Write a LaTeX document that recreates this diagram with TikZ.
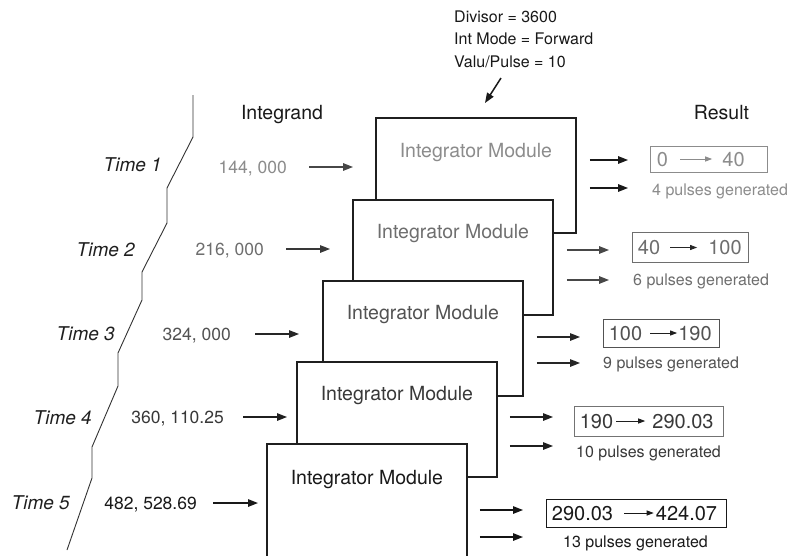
\documentclass[tikz,border=0pt]{standalone}
\usepackage{fontspec}
\setmainfont{TeX Gyre Heros}
\usetikzlibrary{arrows.meta}
\definecolor{cA}{gray}{0.55}
\definecolor{cB}{gray}{0.43}
\definecolor{cC}{gray}{0.32}
\definecolor{cD}{gray}{0.22}
\definecolor{cE}{gray}{0.10}
\begin{document}
\begin{tikzpicture}[x=1pt,y=-1pt,
  modbox/.style={draw=black!88, line width=1.8pt, fill=white, minimum width=200pt, minimum height=115pt, anchor=north west, inner sep=0pt},
  modtxt/.style={inner sep=0pt, text depth=0pt, font=\fontsize{19.5}{22}\selectfont},
  big/.style={inner sep=0pt, text depth=0pt, font=\fontsize{19.5}{22}\selectfont},
  timetxt/.style={inner sep=0pt, text depth=0pt, anchor=east, text=black!88, font=\fontsize{19}{22}\selectfont\itshape},
  intxt/.style={inner sep=0pt, text depth=0pt, anchor=east, font=\fontsize{17.5}{20}\selectfont},
  restxt/.style={inner sep=0pt, text depth=0pt, font=\fontsize{20}{22}\selectfont},
  pultxt/.style={inner sep=0pt, text depth=0pt, anchor=west, font=\fontsize{16}{19}\selectfont},
  partxt/.style={inner sep=0pt, text depth=0pt, anchor=west, text=black!90, font=\fontsize{16}{19}\selectfont},
  resbox/.style={draw, line width=1pt, inner sep=0pt},
  arr/.style={line width=1.4pt, -{Triangle[length=10pt,width=7.5pt]}},
  sarr/.style={line width=0.9pt, -{Triangle[length=7pt,width=5pt]}},
  zig/.style={draw=black!80, line width=0.9pt}
]
\clip (0,0) rectangle (790,555);
\fill[white] (0,0) rectangle (790,555);

% parameters and headings
\node[partxt] (p1) at (454,17) {Divisor = 3600};
\node[partxt] (p2) at (454,39) {Int Mode = Forward};
\node[partxt] (p3) at (454,62) {Valu/Pulse = 10};
\coordinate (pa) at (501,78);
\coordinate (pb) at (485,103);
\draw[arr, black!90, line width=1.5pt] (pa) -- (pb);

\node[big, text=black!90] (hint) at (282,112) {Integrand};
\node[big, text=black!90] (hres) at (721.5,112) {Result};

% time line
\draw[zig] (193,95) -- (193,137) -- (167,188) -- (167,223) -- (142,272) -- (142,300)
  -- (118,353) -- (118,386) -- (92,447) -- (92,478) -- (67,550);

\node[timetxt] (t1) at (162,165) {Time 1};
\node[timetxt] (t2) at (135,250) {Time 2};
\node[timetxt] (t3) at (115,334) {Time 3};
\node[timetxt] (t4) at (92,418) {Time 4};
\node[timetxt] (t5) at (70,503) {Time 5};

% modules
\node[modbox] (b1) at (375,117) {};
\node[modtxt, text=cA] (m1) at ([yshift=-33pt]b1.north) {Integrator Module};
\node[modbox] (b2) at (352,199) {};
\node[modtxt, text=cB] (m2) at ([yshift=-32pt]b2.north) {Integrator Module};
\node[modbox] (b3) at (322,280) {};
\node[modtxt, text=cC] (m3) at ([yshift=-32pt]b3.north) {Integrator Module};
\node[modbox] (b4) at (296,361) {};
\node[modtxt, text=cD] (m4) at ([yshift=-32pt]b4.north) {Integrator Module};
\node[modbox] (b5) at (266,443) {};
\node[modtxt, text=cE] (m5) at ([yshift=-34pt]b5.north) {Integrator Module};

% integrands
\node[intxt, text=cA] (i1) at (287,167) {144, 000};
\node[intxt, text=cB] (i2) at (264,249) {216, 000};
\node[intxt, text=cC] (i3) at (231,334) {324, 000};
\node[intxt, text=cD] (i4) at (224,417) {360, 110.25};
\node[intxt, text=cE] (i5) at (197,503) {482, 528.69};

\draw[arr, black!72, shorten <=22pt, shorten >=22pt] (i1.east) -- (b1.west |- i1.east);
\draw[arr, black!78, shorten <=22pt, shorten >=22pt] (i2.east) -- (b2.west |- i2.east);
\draw[arr, black!85, shorten <=24pt, shorten >=23pt] (i3.east) -- (b3.west |- i3.east);
\draw[arr, black!88, shorten <=19pt, shorten >=9pt] (i4.east) -- (b4.west |- i4.east);
\draw[arr, black!90, shorten <=16pt, shorten >=8pt] (i5.east) -- (b5.west |- i5.east);

% results
\node[resbox, draw=cA, minimum width=117pt, minimum height=26pt] (r1) at (708.5,159) {};
\node[restxt, text=cA] (r1a) at (662.5,159) {0};
\node[restxt, text=cA] (r1b) at (733.5,159) {40};
\draw[sarr, cA, shorten <=12pt, shorten >=10pt] (r1a.east) -- (r1b.west);

\node[resbox, draw=cB, minimum width=116pt, minimum height=30pt] (r2) at (690,247.5) {};
\node[restxt, text=cB] (r2a) at (649,247.5) {40};
\node[restxt, text=cB] (r2b) at (725,247.5) {100};
\draw[sarr, black!85, shorten <=10pt, shorten >=11pt] (r2a.east) -- (r2b.west);

\node[resbox, draw=cC, minimum width=116pt, minimum height=28pt] (r3) at (661,333) {};
\node[restxt, text=cC] (r3a) at (625.5,333) {100};
\node[restxt, text=cC] (r3b) at (695,333) {190};
\draw[sarr, black!88, shorten <=8pt, shorten >=1pt] (r3a.east) -- (r3b.west);

\node[resbox, draw=black!55, minimum width=149pt, minimum height=30pt] (r4) at (648.5,421) {};
\node[restxt, text=cD] (r4a) at (596.5,421) {190};
\node[restxt, text=cD] (r4b) at (683,421) {290.03};
\draw[sarr, black!88, shorten <=3pt, shorten >=7pt] (r4a.east) -- (r4b.west);

\node[resbox, draw=cE, minimum width=180pt, minimum height=28pt] (r5) at (636,513) {};
\node[restxt, text=cE] (r5a) at (582.5,513) {290.03};
\node[restxt, text=cE] (r5b) at (686.5,513) {424.07};
\draw[sarr, black!90, shorten <=11pt, shorten >=2pt] (r5a.east) -- (r5b.west);

% pulses
\node[pultxt, text=cA] (q1) at (652,190) {4 pulses generated};
\node[pultxt, text=cB] (q2) at (633,280) {6 pulses generated};
\node[pultxt, text=cC] (q3) at (603,363) {9 pulses generated};
\node[pultxt, text=cD] (q4) at (576,452) {10 pulses generated};
\node[pultxt, text=cE] (q5) at (563,542) {13 pulses generated};

% output arrows
\coordinate (o1a) at (628,160); \coordinate (o1b) at (628,188);
\coordinate (o2a) at (609,250); \coordinate (o2b) at (609,280);
\coordinate (o3a) at (580,337); \coordinate (o3b) at (580,363);
\coordinate (o4a) at (553,417); \coordinate (o4b) at (553,446);
\coordinate (o5a) at (523,510); \coordinate (o5b) at (523,537);
\draw[arr, black!90, shorten <=13pt] (b1.east |- o1a) -- (o1a);
\draw[arr, black!90, shorten <=13pt] (b1.east |- o1b) -- (o1b);
\draw[arr, black!72, shorten <=13pt] (b2.east |- o2a) -- (o2a);
\draw[arr, black!72, shorten <=13pt] (b2.east |- o2b) -- (o2b);
\draw[arr, black!85, shorten <=13pt] (b3.east |- o3a) -- (o3a);
\draw[arr, black!85, shorten <=13pt] (b3.east |- o3b) -- (o3b);
\draw[arr, black!88, shorten <=12pt] (b4.east |- o4a) -- (o4a);
\draw[arr, black!88, shorten <=12pt] (b4.east |- o4b) -- (o4b);
\draw[arr, black!92, shorten <=12pt] (b5.east |- o5a) -- (o5a);
\draw[arr, black!92, shorten <=12pt] (b5.east |- o5b) -- (o5b);
\end{tikzpicture}
\end{document}
